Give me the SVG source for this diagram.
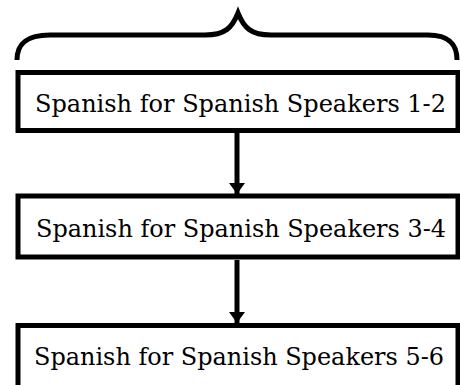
<svg xmlns="http://www.w3.org/2000/svg" width="460" height="385" viewBox="0 0 460 385">
<style>
.box{fill:#fff;stroke:#000;stroke-width:5}
.conn{stroke:#000;stroke-width:5;fill:none}
text{font-family:'DejaVu Serif','Liberation Serif',serif;font-size:24px;fill:#000}
</style>
<defs>
<marker id="ah" markerUnits="userSpaceOnUse" markerWidth="12" markerHeight="18" refX="11" refY="8" orient="auto">
<path d="M0,0 L11,8 L0,16 Z" fill="#000"/>
</marker>
</defs>
<rect width="460" height="385" fill="#fff"/>
<path class="conn" d="M17,60 C17,45 25,35 50,35 L205,35 C225,35 232,28 238,13 C244,28 251,35 271,35 L428,35 C450,35 457,45 457,60"/>
<g id="node1">
<rect class="box" x="18" y="72.5" width="440" height="58"/>
<text x="35" y="112" textLength="411" lengthAdjust="spacingAndGlyphs">Spanish for Spanish Speakers 1-2</text>
</g>
<g id="node2">
<rect class="box" x="18" y="196" width="440" height="61"/>
<text x="36" y="237" textLength="410" lengthAdjust="spacingAndGlyphs">Spanish for Spanish Speakers 3-4</text>
</g>
<g id="node3">
<rect class="box" x="18" y="325.5" width="440" height="62"/>
<text x="34" y="365" textLength="410" lengthAdjust="spacingAndGlyphs">Spanish for Spanish Speakers 5-6</text>
</g>
<g id="connectors">
<line class="conn" x1="237" y1="133" x2="237" y2="194" marker-end="url(#ah)"/>
<line class="conn" x1="237" y1="260" x2="237" y2="323" marker-end="url(#ah)"/>
</g>
</svg>
